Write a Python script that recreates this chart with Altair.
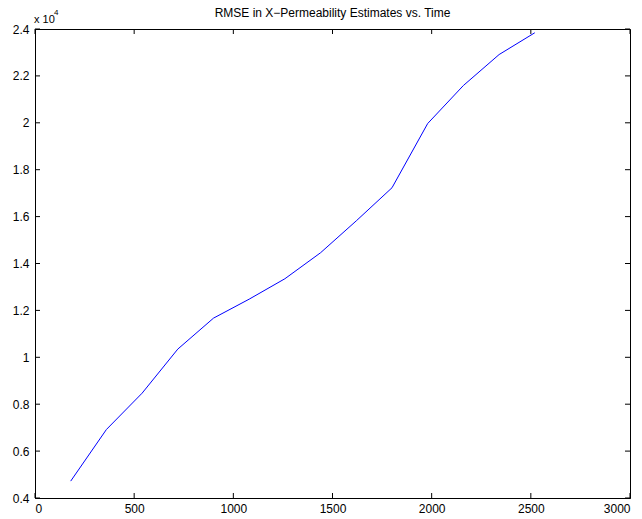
import altair as alt
import pandas as pd

# RMSE of the x-permeability estimates, sampled every 180 time units
time = [180, 360, 540, 720, 900, 1080, 1260, 1440, 1620, 1800, 1980, 2160, 2340, 2520]
rmse = [4720, 6920, 8470, 10350, 11670, 12480, 13350, 14460, 15820, 17230, 19970, 21590, 22910, 23840]

x_ticks = [0, 500, 1000, 1500, 2000, 2500, 3000]
y_ticks = [4000, 6000, 8000, 10000, 12000, 14000, 16000, 18000, 20000, 22000, 24000]

title_text = "RMSE in X\u2212Permeability Estimates vs. Time"

W, H = 595, 469
FONT = "Liberation Sans"

df = pd.DataFrame({"time": time, "rmse": rmse})
xt = pd.DataFrame({"v": x_ticks})
yt = pd.DataFrame({"v": y_ticks})

xscale = alt.Scale(domain=[0, 3000], nice=False, zero=False)
yscale = alt.Scale(domain=[4000, 24000], nice=False, zero=False)

line = alt.Chart(df).mark_line(color="#0000ff", strokeWidth=1).encode(
    x=alt.X("time:Q", scale=xscale,
            axis=alt.Axis(values=x_ticks, ticks=False, grid=False, title=None,
                          format="d", labelPadding=5, domainColor="black", domainWidth=1,
                          labelColor="black", labelFont=FONT, labelFontSize=12)),
    y=alt.Y("rmse:Q", scale=yscale,
            axis=alt.Axis(values=y_ticks, ticks=False, grid=False, title=None,
                          labelExpr="format(datum.value / 10000, '.1~f')",
                          labelPadding=6, domainColor="black", domainWidth=1,
                          labelColor="black", labelFont=FONT, labelFontSize=12)),
)

# inward tick marks on all four sides of the box
tick_len = 5
xb = alt.Chart(xt).mark_rule(color="black", strokeWidth=1).encode(
    x=alt.X("v:Q", scale=xscale), y=alt.value(H), y2=alt.value(H - tick_len))
xtop = alt.Chart(xt).mark_rule(color="black", strokeWidth=1).encode(
    x=alt.X("v:Q", scale=xscale), y=alt.value(0), y2=alt.value(tick_len))
yl = alt.Chart(yt).mark_rule(color="black", strokeWidth=1).encode(
    y=alt.Y("v:Q", scale=yscale), x=alt.value(0), x2=alt.value(tick_len))
yr = alt.Chart(yt).mark_rule(color="black", strokeWidth=1).encode(
    y=alt.Y("v:Q", scale=yscale), x=alt.value(W), x2=alt.value(W - tick_len))

# exponent label of the y axis
mult = alt.Chart(pd.DataFrame({"t": ["x 10"]})).mark_text(
    align="left", baseline="alphabetic", font=FONT, fontSize=11, fill="black"
).encode(x=alt.value(-1), y=alt.value(-6), text="t:N")
expo = alt.Chart(pd.DataFrame({"t": ["4"]})).mark_text(
    align="left", baseline="alphabetic", font=FONT, fontSize=8, fill="black"
).encode(x=alt.value(19), y=alt.value(-14), text="t:N")

# chart title centred over the plot box
head = alt.Chart(pd.DataFrame({"t": [title_text]})).mark_text(
    align="center", baseline="alphabetic", font=FONT, fontSize=12, fill="black"
).encode(x=alt.value(W / 2), y=alt.value(-12), text="t:N")

chart = alt.layer(line, xb, xtop, yl, yr, mult, expo, head).properties(
    width=W, height=H,
    autosize=alt.AutoSizeParams(type="none"),
    padding={"left": 35, "top": 29, "right": 12, "bottom": 21},
).configure_view(stroke="black", strokeWidth=1)

chart.save("out.html", embed_options={"renderer": "svg", "actions": False})
